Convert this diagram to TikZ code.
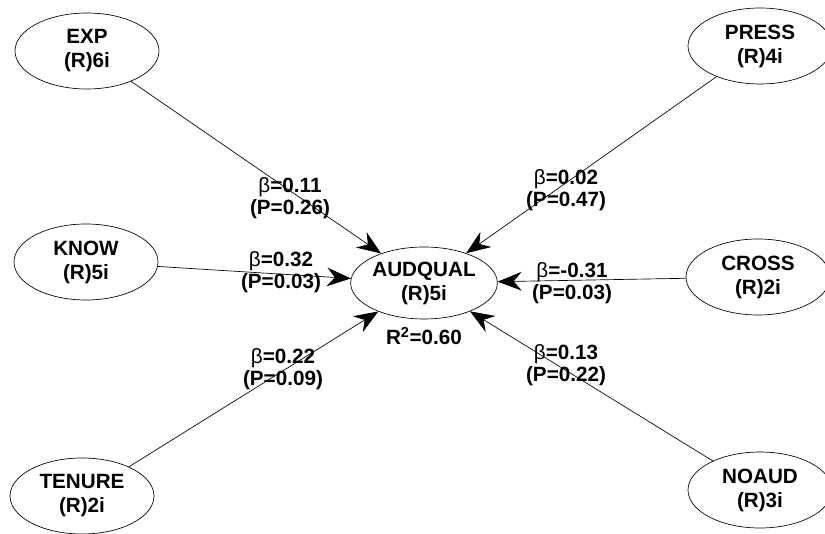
\documentclass[tikz,border=0pt]{standalone}
\usepackage{fontspec}
\setmainfont{Liberation Sans}
\usetikzlibrary{shapes.geometric,arrows.meta}
\begin{document}
\begin{tikzpicture}[x=0.75pt,y=-0.75pt,
  lv/.style={draw, ellipse, line width=0.5pt, minimum width=108pt, minimum height=57pt, inner sep=0pt,
    align=center, font=\fontsize{15.5}{18}\selectfont\bfseries},
  lbl/.style={align=center, font=\fontsize{15.5}{17}\selectfont\bfseries, inner sep=0pt},
  path/.style={line width=0.5pt, -{Stealth[length=18pt,width=14pt,inset=6pt]}, shorten >=0pt}
]
\useasboundingbox (0,0) rectangle (825,534);
\fill[white] (0,0) rectangle (825,534);
\node[lv] (EXP) at (87,51) {EXP\\(R)6i};
\node[lv] (PRESS) at (760,46) {PRESS\\(R)4i};
\node[lv] (KNOW) at (86,262) {KNOW\\(R)5i};
\node[lv] (CROSS) at (758,277) {CROSS\\(R)2i};
\node[lv] (TENURE) at (82,496) {TENURE\\(R)2i};
\node[lv] (NOAUD) at (760,490) {NOAUD\\(R)3i};
\node[lv, minimum width=110pt, minimum height=54pt] (AUD) at (424,283) {AUDQUAL\\(R)5i};
\node[lbl] (r2) at (424,336) {R\textsuperscript{2}=0.60};

\draw[path] (EXP) -- (AUD);
\draw[path] (KNOW) -- (AUD);
\draw[path] (TENURE) -- (AUD);
\draw[path] (PRESS) -- (AUD);
\draw[path] (CROSS) -- (AUD);
\draw[path] (NOAUD) -- (AUD);

\node[lbl] (l1) at (290,198) {{\fontseries{m}\selectfont β}=0.11\\(P=0.26)};
\node[lbl] (l2) at (281,272) {{\fontseries{m}\selectfont β}=0.32\\(P=0.03)};
\node[lbl] (l3) at (283,369) {{\fontseries{m}\selectfont β}=0.22\\(P=0.09)};
\node[lbl] (l4) at (566,190) {{\fontseries{m}\selectfont β}=0.02\\(P=0.47)};
\node[lbl] (l5) at (572,283) {{\fontseries{m}\selectfont β}=-0.31\\(P=0.03)};
\node[lbl] (l6) at (566,365) {{\fontseries{m}\selectfont β}=0.13\\(P=0.22)};
\end{tikzpicture}
\end{document}
